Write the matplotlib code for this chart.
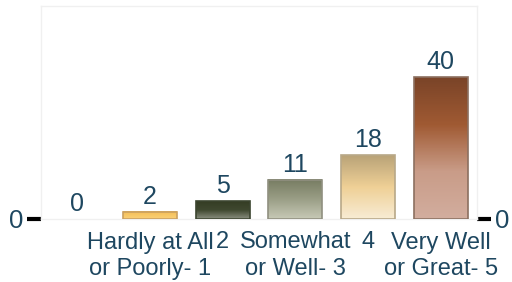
import matplotlib.pyplot as plt
import numpy as np
from matplotlib.colors import LinearSegmentedColormap

plt.rcParams['font.family'] = ['Liberation Sans', 'DejaVu Sans']

# data
categories = ['', 'Hardly at All\nor Poorly- 1', '2', 'Somewhat\nor Well- 3', '4', 'Very Well\nor Great- 5']
values = [0, 2, 5, 11, 18, 40]
# gradient stops (top -> bottom) for each bar
grads = [
    ['#ffffff', '#ffffff'],
    ['#f2bb55', '#f7c766', '#f9cf78'],
    ['#353d24', '#3f4830', '#8a8e80'],
    ['#777c62', '#9a9e86', '#c7c9b6'],
    ['#b9a378', '#efd096', '#f8ecd4'],
    ['#7a4428', '#a05a33', '#c99c88', '#d2ad9e'],
]
edges = ['none', '#caa060', '#3c4530', '#909080', '#b8a888', '#8c7060']
txt = '#1e4760'

fig = plt.figure(figsize=(5.12, 2.82), dpi=100)
ax = fig.add_axes([41/512, 1 - 219/282, 436/512, 213/282])

x = np.arange(len(categories))
bars = ax.bar(x, values, width=0.74, color='none', zorder=3)
for b, g, ec, v in zip(bars, grads, edges, values):
    if v > 0:
        cm = LinearSegmentedColormap.from_list('g', g)
        grad = np.linspace(0, 1, 100).reshape(-1, 1)
        x0, w, h = b.get_x(), b.get_width(), b.get_height()
        ax.imshow(grad, cmap=cm, aspect='auto', extent=[x0, x0 + w, 0, h],
                  origin='upper', zorder=2)
        b.set_edgecolor(ec)
        b.set_linewidth(1.2)
    ax.text(b.get_x() + b.get_width() / 2, b.get_height() + 0.9, str(v),
            ha='center', va='bottom', fontsize=18, color=txt)

ax.set_xlim(-0.5, 5.5)
ax.set_ylim(0, 60)
ax.set_xticks(x)
ax.set_xticklabels(categories, fontsize=17, color=txt, linespacing=1.25)
ax.tick_params(axis='x', length=0, pad=9)
ax.set_yticks([0])
ax.tick_params(axis='y', length=10, width=3, color='black', labelsize=18.5,
               labelcolor=txt, left=True, right=True, labelleft=True, labelright=True, pad=3)
for s in ax.spines.values():
    s.set_color('#f0f0f0')
    s.set_linewidth(1)

fig.savefig('out.png', dpi=100)
